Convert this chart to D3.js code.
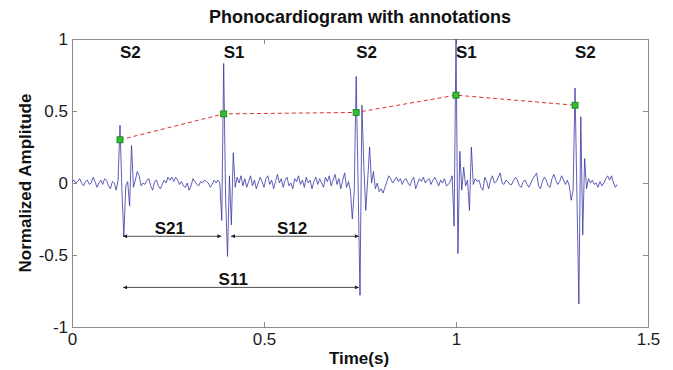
<!DOCTYPE html>
<html>
<head>
<meta charset="utf-8">
<script src="https://cdn.jsdelivr.net/npm/d3@7"></script>
<style>
  html, body { margin: 0; padding: 0; background: #fff; }
  svg { display: block; font-family: "Liberation Sans", Arial, Helvetica, sans-serif; }
  .axis path, .axis line { stroke: #8c8c8c; }
  .axis text { font-size: 17px; fill: #1a1a1a; }
</style>
</head>
<body>
<svg id="chart" width="673" height="370"></svg>
<script>
// sampled PCG, one value every 5 ms starting at t = 0
const sampleStep = 0.005;
const pcgAmplitude = [
  0.01, 0.02, 0.00, 0.01, 0.03, 0.00, -0.02, 0.01, 0.02, -0.01, 0.00, 0.04, 0.01, -0.03, 0.00, 0.02, -0.01, 0.03, 0.02, -0.02, -0.04, 0.01, 0.00,
  // S2
  -0.05, 0.02, 0.40, -0.05, -0.37, -0.02, 0.01, -0.16, 0.26, -0.03, 0.02, 0.08, 0.05, -0.02,
  0.00, -0.01, 0.02, 0.03, -0.02, -0.05, 0.01, 0.02, -0.02, -0.04,
  -0.01, 0.02, 0.00, 0.04, 0.02, 0.04, 0.01, 0.04, 0.02, -0.01,
  0.01, -0.02, -0.03, 0.00, -0.05, -0.02, 0.03, 0.01, -0.01, -0.02,
  0.01, 0.00, 0.02, 0.01, 0.00, -0.03, -0.01, 0.02, 0.00, 0.02,
  // S1
  0.00, -0.26, 0.83, -0.10, -0.51, 0.05, -0.29, 0.21, -0.03, 0.04, 0.00, 0.05,
  -0.02, 0.03, -0.03, 0.01, 0.05, -0.02, 0.02, -0.04, 0.00, 0.04,
  0.01, -0.03, 0.03, 0.05, -0.01, 0.02, -0.04, 0.01, 0.06, 0.00,
  0.03, -0.03, 0.02, 0.04, -0.02, 0.00, -0.04, 0.03, 0.01, 0.05,
  -0.01, 0.02, -0.03, 0.04, 0.00, 0.02, -0.04, 0.01, 0.04, -0.01,
  0.03, 0.00, -0.03, 0.04, 0.01, 0.05, -0.02, 0.02, 0.06, -0.01,
  0.03, -0.04, 0.02, 0.07, -0.03, 0.01,
  // S2
  -0.05, -0.25, -0.06, 0.74, 0.00, -0.78, 0.54, 0.12, -0.19, 0.02,
  0.25, 0.00, 0.08, -0.04, 0.00, -0.06, -0.04, -0.07, -0.03, 0.01, 0.05,
  0.03, 0.00, 0.02, 0.04, 0.01, 0.03, -0.01, 0.02, 0.03, 0.00,
  -0.02, 0.02, 0.04, -0.04, 0.00, 0.03, 0.01, 0.04, 0.00, 0.02,
  0.03, -0.01, 0.02, 0.04, 0.01, -0.02, 0.02, 0.00, 0.03, -0.02,
  -0.01, 0.01, 0.05,
  // S1
  -0.30, 1.00, -0.49, 0.22, -0.05, 0.11, -0.02, 0.02, -0.19, 0.25,
  -0.01, 0.03, 0.01, 0.02,
  -0.03, -0.05, 0.04, 0.01, -0.04, 0.02, 0.05, 0.00, 0.01, 0.04,
  0.07, 0.00, -0.01, 0.02, 0.01, -0.01, -0.01, 0.02, 0.04, 0.02,
  -0.02, -0.03, 0.01, 0.02, -0.01, -0.03, 0.00, 0.03, 0.05, 0.07,
  -0.02, -0.04, 0.01, 0.04, 0.02, -0.02, -0.03, 0.03, 0.06, 0.02,
  -0.01, 0.01, 0.05, 0.02, -0.01, 0.02, -0.02, -0.12, -0.05,
  // S2
  0.66, -0.10, -0.84, 0.46, -0.36, 0.17, -0.04, 0.03, 0.00, 0.02,
  -0.01, 0.00, -0.03, 0.01, -0.02, 0.00, 0.03, 0.05, 0.02, 0.05,
  0.00, -0.03, -0.01
];

const beatLabels = ["S2", "S1", "S2", "S1", "S2"];
const beatTimes = [0.125, 0.395, 0.74, 1.0, 1.31];
const beatMarkerAmps = [0.30, 0.48, 0.49, 0.61, 0.54];

const intervalNames = ["S21", "S12", "S11"];
const intervalStart = [0.133, 0.414, 0.133];
const intervalEnd = [0.389, 0.747, 0.747];
const intervalLevel = [-0.37, -0.37, -0.725];
const intervalLabelTime = [0.255, 0.573, 0.42];

const xTicks = [0, 0.5, 1, 1.5];
const yTicks = [-1, -0.5, 0, 0.5, 1];

const svg = d3.select("#chart");
const x = d3.scaleLinear().domain([0, 1.5]).range([72, 648]);
const y = d3.scaleLinear().domain([-1, 1]).range([327, 39]);

// arrow head
svg.append("defs").append("marker")
  .attr("id", "arrow")
  .attr("viewBox", "0 0 6 6")
  .attr("refX", 6).attr("refY", 3)
  .attr("markerWidth", 5).attr("markerHeight", 4)
  .attr("markerUnits", "userSpaceOnUse")
  .attr("orient", "auto-start-reverse")
  .append("path")
  .attr("d", "M0,0L6,3L0,6Z")
  .attr("fill", "#222");

// axes box, ticks inward on all sides (matlab style, plain hyphen minus)
const fmt = d => String(d);
svg.append("g").attr("class", "axis")
  .attr("transform", `translate(0,${y(-1)})`)
  .call(d3.axisBottom(x).tickValues(xTicks).tickSize(-5).tickSizeOuter(0).tickPadding(6).tickFormat(fmt));
svg.append("g").attr("class", "axis")
  .attr("transform", `translate(${x(0)},0)`)
  .call(d3.axisLeft(y).tickValues(yTicks).tickSize(-5).tickSizeOuter(0).tickPadding(4).tickFormat(fmt));
svg.append("g").attr("class", "axis")
  .attr("transform", `translate(0,${y(1)})`)
  .call(d3.axisTop(x).tickValues(xTicks).tickSize(-5).tickSizeOuter(0).tickFormat(""));
svg.append("g").attr("class", "axis")
  .attr("transform", `translate(${x(1.5)},0)`)
  .call(d3.axisRight(y).tickValues(yTicks).tickSize(-5).tickSizeOuter(0).tickFormat(""));

// signal
const signal = pcgAmplitude.map((v, i) => [i * sampleStep, v]);
svg.append("path")
  .datum(signal)
  .attr("fill", "none")
  .attr("stroke", "#3636a6")
  .attr("stroke-width", 0.8)
  .attr("stroke-linejoin", "round")
  .attr("d", d3.line().x(d => x(d[0])).y(d => y(d[1])));

// beat markers joined by dashed line
const beats = beatTimes.map((t, i) => ({ t, a: beatMarkerAmps[i], label: beatLabels[i] }));
svg.append("path")
  .datum(beats)
  .attr("fill", "none")
  .attr("stroke", "#dd3030")
  .attr("stroke-width", 1)
  .attr("stroke-dasharray", "4,3")
  .attr("d", d3.line().x(d => x(d.t)).y(d => y(d.a)));

svg.selectAll("rect.beat")
  .data(beats)
  .enter().append("rect")
  .attr("class", "beat")
  .attr("x", d => x(d.t) - 3)
  .attr("y", d => y(d.a) - 3)
  .attr("width", 6).attr("height", 6)
  .attr("fill", "#2fbf2f")
  .attr("stroke", "#177a17")
  .attr("stroke-width", 0.8);

svg.selectAll("text.beat")
  .data(beats)
  .enter().append("text")
  .attr("class", "beat")
  .attr("x", d => x(d.t))
  .attr("y", 58)
  .attr("font-size", 17)
  .attr("font-weight", "bold")
  .attr("fill", "#111")
  .text(d => d.label);

// interval arrows
const intervals = intervalNames.map((n, i) => ({
  name: n, t0: intervalStart[i], t1: intervalEnd[i], v: intervalLevel[i], tl: intervalLabelTime[i]
}));
svg.selectAll("line.interval")
  .data(intervals)
  .enter().append("line")
  .attr("class", "interval")
  .attr("x1", d => x(d.t0)).attr("x2", d => x(d.t1))
  .attr("y1", d => y(d.v)).attr("y2", d => y(d.v))
  .attr("stroke", "#222")
  .attr("stroke-width", 0.8)
  .attr("marker-start", "url(#arrow)")
  .attr("marker-end", "url(#arrow)");

svg.selectAll("text.interval")
  .data(intervals)
  .enter().append("text")
  .attr("class", "interval")
  .attr("x", d => x(d.tl))
  .attr("y", d => y(d.v) - 2)
  .attr("text-anchor", "middle")
  .attr("font-size", 17)
  .attr("font-weight", "bold")
  .attr("fill", "#111")
  .text(d => d.name);

// titles
svg.append("text")
  .attr("x", 360).attr("y", 23)
  .attr("text-anchor", "middle")
  .attr("font-size", 18).attr("font-weight", "bold").attr("fill", "#111")
  .text("Phonocardiogram with annotations");
svg.append("text")
  .attr("x", 359).attr("y", 364)
  .attr("text-anchor", "middle")
  .attr("font-size", 17).attr("font-weight", "bold").attr("fill", "#111")
  .text("Time(s)");
svg.append("text")
  .attr("transform", `translate(31,183) rotate(-90)`)
  .attr("text-anchor", "middle")
  .attr("font-size", 17).attr("font-weight", "bold").attr("fill", "#111")
  .text("Normalized Amplitude");
</script>
</body>
</html>
